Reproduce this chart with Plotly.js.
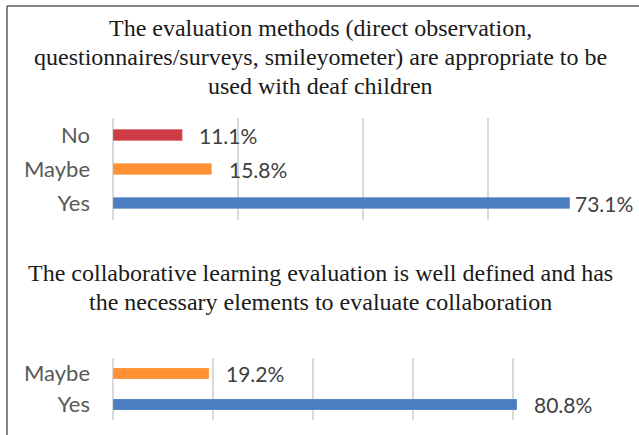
<!DOCTYPE html>
<html>
<head>
<meta charset="utf-8">
<script src="https://cdn.plot.ly/plotly-3.0.1.min.js"></script>
<style>
html,body{margin:0;padding:0;background:#fff;}
#chart{width:639px;height:435px;}
</style>
</head>
<body>
<div id="chart"></div>
<script>
// ---- data ----
var title1Lines = ["The evaluation methods (direct observation,",
                   "questionnaires/surveys, smileyometer) are appropriate to be",
                   "used with deaf children"];
var title2Lines = ["The collaborative learning evaluation is well defined and has",
                   "the necessary elements to evaluate collaboration"];
var q1Categories = ["No", "Maybe", "Yes"];
var q1Values = [11.1, 15.8, 73.1];
var q2Categories = ["Maybe", "Yes"];
var q2Values = [19.2, 80.8];
var colorByAnswer = {"No": "#CF3B45", "Maybe": "#FF9033", "Yes": "#4A7EC0"};

var W = 639, H = 435;
var labelFont = {family: "Lato, 'Open Sans', sans-serif", size: 22, color: "#595959"};
var valueFont = {family: "Lato, 'Open Sans', sans-serif", size: 21, color: "#404040"};
var titleFont = {family: "'Liberation Serif', 'DejaVu Serif', serif", size: 24, color: "#1a1a1a"};

var traces = [
  {
    type: "bar", orientation: "h",
    x: q1Values, y: q1Categories,
    xaxis: "x", yaxis: "y",
    width: 0.34,
    marker: {color: q1Categories.map(function(c){return colorByAnswer[c];}),
             line: {color: "rgba(255,255,255,0.35)", width: 0.6}},
    hoverinfo: "none"
  },
  {
    type: "bar", orientation: "h",
    x: q2Values, y: q2Categories,
    xaxis: "x2", yaxis: "y2",
    width: 0.36,
    marker: {color: q2Categories.map(function(c){return colorByAnswer[c];}),
             line: {color: "rgba(255,255,255,0.35)", width: 0.6}},
    hoverinfo: "none"
  }
];

var xdom = [113 / W, 613 / W];
function ydom(top, bottom){ return [1 - bottom / H, 1 - top / H]; }

var gridColor = "#D9D9D9";
var annotations = [];
var title1Y = [28, 57, 86];
var title2Y = [273, 302];
title1Lines.forEach(function(t, i){
  annotations.push({xref: "paper", yref: "paper", x: 320 / W, y: 1 - title1Y[i] / H, xanchor: "center", yanchor: "middle",
    text: t, showarrow: false, font: titleFont});
});
title2Lines.forEach(function(t, i){
  annotations.push({xref: "paper", yref: "paper", x: 320 / W, y: 1 - title2Y[i] / H, xanchor: "center", yanchor: "middle",
    text: t, showarrow: false, font: titleFont});
});

q1Values.forEach(function(v, i){
  annotations.push({xref: "x", yref: "y", x: v, y: q1Categories[i], xanchor: "left", yanchor: "middle",
    xshift: v > 70 ? 3 : 15, text: v.toFixed(1) + "%", showarrow: false, font: valueFont});
});
q2Values.forEach(function(v, i){
  annotations.push({xref: "x2", yref: "y2", x: v, y: q2Categories[i], xanchor: "left", yanchor: "middle",
    xshift: 15, text: v.toFixed(1) + "%", showarrow: false, font: valueFont});
});

var layout = {
  width: W, height: H,
  margin: {l: 0, r: 0, t: 0, b: 0},
  paper_bgcolor: "#ffffff", plot_bgcolor: "#ffffff",
  showlegend: false,
  xaxis: {domain: xdom, anchor: "y", range: [0, 80], dtick: 20, showticklabels: false,
    showgrid: true, gridcolor: gridColor, gridwidth: 1.2, zeroline: true, zerolinecolor: gridColor, zerolinewidth: 1.2,
    showline: false, fixedrange: true},
  yaxis: {domain: ydom(118, 220), anchor: "x", autorange: "reversed", showgrid: false, zeroline: false,
    showline: false, ticks: "", tickfont: labelFont, ticklabelstandoff: 22, fixedrange: true},
  xaxis2: {domain: xdom, anchor: "y2", range: [0, 100], dtick: 20, showticklabels: false,
    showgrid: true, gridcolor: gridColor, gridwidth: 1.2, zeroline: true, zerolinecolor: gridColor, zerolinewidth: 1.2,
    showline: false, fixedrange: true},
  yaxis2: {domain: ydom(358, 420), anchor: "x2", autorange: "reversed", showgrid: false, zeroline: false,
    showline: false, ticks: "", tickfont: labelFont, ticklabelstandoff: 22, fixedrange: true},
  annotations: annotations,
  shapes: [
    {type: "line", xref: "paper", yref: "paper", x0: 7 / W, x1: 1, y0: 1 - 6 / H, y1: 1 - 6 / H,
      line: {color: "#5a5a5a", width: 1.5}},
    {type: "line", xref: "paper", yref: "paper", x0: 7 / W, x1: 7 / W, y0: 0, y1: 1 - 6 / H,
      line: {color: "#5a5a5a", width: 1.5}}
  ]
};

Plotly.newPlot("chart", traces, layout, {displayModeBar: false, staticPlot: true});
</script>
</body>
</html>
